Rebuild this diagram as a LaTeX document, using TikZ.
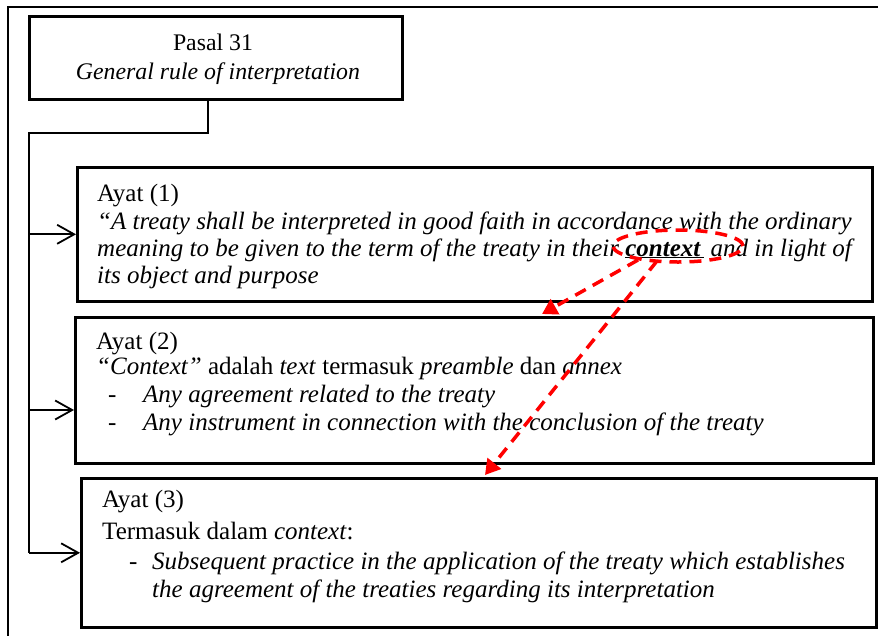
\documentclass[tikz,border=0pt]{standalone}
\usepackage{fontspec}
\setmainfont{Liberation Serif}
\usetikzlibrary{arrows.meta,shapes.geometric}

\begin{document}
\begin{tikzpicture}[x=1pt,y=-1pt,
  box/.style={draw=black, line width=2.6pt, fill=white, rectangle, inner sep=0pt, anchor=north west},
  txt/.style={inner sep=0pt, anchor=base west, font=\fontsize{25}{30}\selectfont},
  ctxt/.style={inner sep=0pt, anchor=base, font=\fontsize{23.8}{28}\selectfont},
  conn/.style={draw=black, line width=1.8pt},
  barb/.style={conn, -{Straight Barb[length=17pt,width=19pt,line width=1.8pt]}},
  redline/.style={draw=red, line width=3.5pt, dash pattern=on 12pt off 8pt},
  redlink/.style={redline, -{Triangle[length=15pt,width=17pt,fill=red]}}]
\useasboundingbox (0,0) rectangle (878,635);
\clip (0,0) rectangle (878,635);
\fill[white] (0,0) rectangle (878,635);

% outer frame, running past the right and bottom edges
\draw[line width=1.8pt] (900,7) -- (8,7) -- (8,660);

% boxes
\node[box, minimum width=373pt, minimum height=83pt] (p)  at (28,15)  {};
\node[box, minimum width=795pt, minimum height=134pt] (b1) at (76,166) {};
\node[box, minimum width=798pt, minimum height=146pt] (b2) at (74,316) {};
\node[box, minimum width=795pt, minimum height=149pt] (b3) at (80,477) {};

% Pasal 31
\node[ctxt] (p1) at (213,50) {Pasal 31};
\node[ctxt] (p2) at (218,79) {\itshape General rule of interpretation};

% Ayat (1)
\node[txt] (a1) at (97,201) {Ayat (1)};
\node[txt] (a1l1) at (97,229) {\itshape “A treaty shall be interpreted in good faith in accordance with the ordinary};
\node[txt] (a1l2) at (97,256) {\itshape meaning to be given to the term of the treaty in their \underline{\bfseries context\,} and in light of};
\node[txt] (a1l3) at (97,283) {\itshape its object and purpose};

% Ayat (2)
\node[txt] (a2) at (96,349) {Ayat (2)};
\node[txt] (a2l1) at (96,374) {\textit{“Context”} adalah \textit{text} termasuk \textit{preamble} dan \textit{annex}};
\node[txt] (a2d1) at (108,402) {-};
\node[txt] (a2l2) at (143,402) {\itshape Any agreement related to the treaty};
\node[txt] (a2d2) at (108,430) {-};
\node[txt] (a2l3) at (143,430) {\itshape Any instrument in connection with the conclusion of the treaty};

% Ayat (3)
\node[txt] (a3) at (102,507) {Ayat (3)};
\node[txt] (a3l1) at (102,539) {Termasuk dalam \textit{context}:};
\node[txt] (a3d1) at (129,569) {-};
\node[txt] (a3l2) at (152,569) {\itshape Subsequent practice in the application of the treaty which establishes};
\node[txt] (a3l3) at (152,597) {\itshape the agreement of the treaties regarding its interpretation};

% tree connector
\coordinate (trunk) at (29,133);
\draw[conn] ([xshift=-7.5pt]p.south) |- (trunk) -- (trunk |- b3.west);
\draw[barb] (trunk |- b3.west) -- (b3.west);
\draw[barb] (trunk |- b1.west) -- (b1.west);
\coordinate (b2in) at (74,410);
\draw[barb] (trunk |- b2in) -- (b2in);

% highlighted term and its links
\node[ellipse, redline, minimum width=130pt, minimum height=32pt, inner sep=0pt] (ctx) at (678,246) {};
\coordinate (t1) at (542,314);
\coordinate (t2) at (485,475);
\draw[redlink] ([shift={(-40,14)}]ctx.center) -- (t1);
\draw[redlink] ([shift={(-21,15)}]ctx.center) -- (t2);
\end{tikzpicture}
\end{document}
